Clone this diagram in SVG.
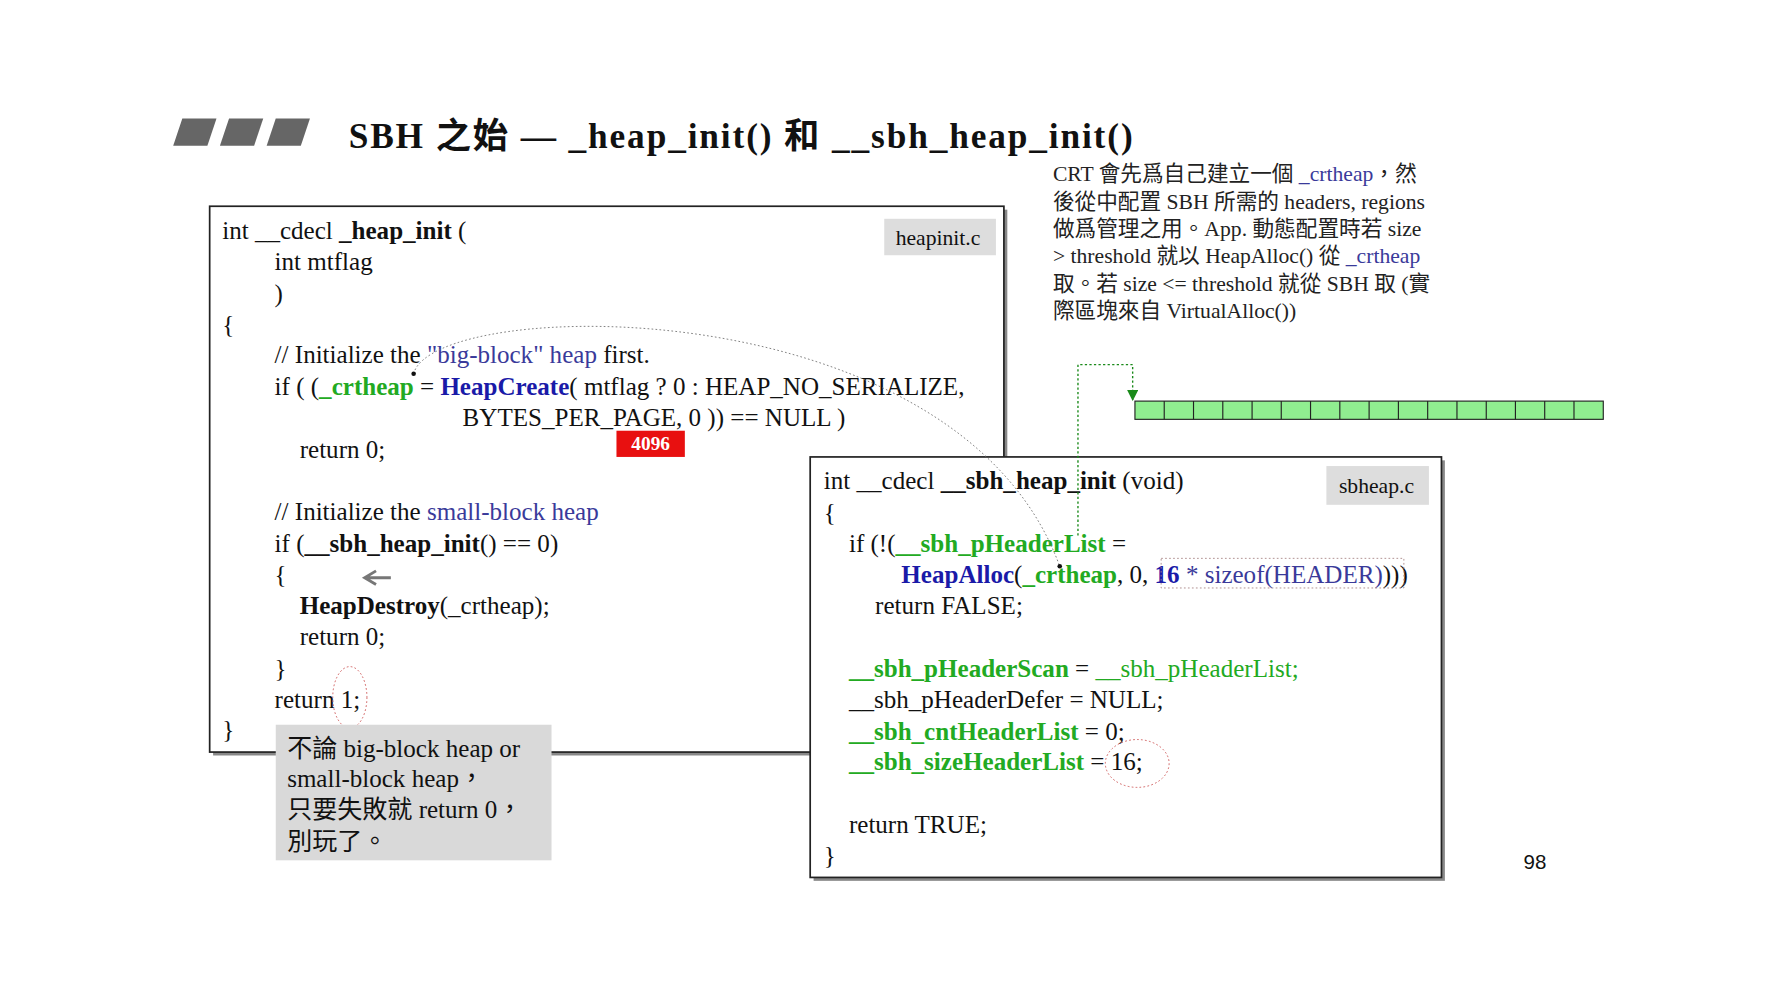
<svg xmlns="http://www.w3.org/2000/svg" width="1778" height="1000" viewBox="0 0 1778 1000">
<style>
.c{font-family:"Liberation Serif","Noto Sans CJK TC",serif;font-size:22px;fill:#111}
.n{font-family:"Liberation Serif","Noto Sans CJK TC",serif;font-size:19px;fill:#222}
.g{fill:#22aa22;font-weight:bold}
.gn{fill:#22aa22}
.b{fill:#1a1aa8;font-weight:bold}
.bl{fill:#3a3a9a}
.k{font-weight:bold}
.box{fill:#fff;stroke:#222;stroke-width:1.5}
.tag{fill:#ddd}
</style>
<defs><marker id="ga" markerWidth="10" markerHeight="10" refX="5" refY="9" orient="0" markerUnits="userSpaceOnUse"><path d="M0,0 L10,0 L5,10 z" fill="#1a8a1a"/></marker></defs>
<rect width="1778" height="1000" fill="#fff"/>
<g transform="scale(1.1395)">
<g id="title">
<polygon points="160,104 190,104 182,128 152,128" fill="#666"/>
<polygon points="201,104 231,104 223,128 193,128" fill="#666"/>
<polygon points="242,104 272,104 264,128 234,128" fill="#666"/>
<text x="306" y="130" class="c" style="font-size:31px;font-weight:bold" textLength="688" lengthAdjust="spacing">SBH 之始 — _heap_init() 和 __sbh_heap_init()</text>
</g>
<g id="heapinit">
<rect x="187" y="184" width="697" height="479" fill="#888"/>
<rect x="184" y="181" width="697" height="479" class="box"/>
<rect x="776" y="192" width="98" height="32" class="tag"/>
<text x="786" y="215" class="c" style="font-size:19px">heapinit.c</text>
<text x="195" y="210" class="c">int __cdecl <tspan class="k">_heap_init</tspan> (</text>
<text x="241" y="237" class="c">int mtflag</text>
<text x="241" y="265" class="c">)</text>
<text x="195" y="292" class="c">{</text>
<text x="241" y="319" class="c">//  Initialize the <tspan class="bl">"big-block" heap</tspan> first.</text>
<text x="241" y="347" class="c">if ( (<tspan class="g">_crtheap</tspan> = <tspan class="b">HeapCreate</tspan>( mtflag ? 0 : HEAP_NO_SERIALIZE,</text>
<text x="406" y="374" class="c">BYTES_PER_PAGE, 0 )) == NULL )</text>
<text x="263" y="402" class="c">return 0;</text>
<text x="241" y="456" class="c">//  Initialize the <tspan class="bl">small-block heap</tspan></text>
<text x="241" y="484" class="c">if (<tspan class="k">__sbh_heap_init</tspan>() == 0)</text>
<text x="241" y="512" class="c">{</text>
<path d="M343,507 H322 M330,501 L320,507 L330,513" stroke="#777" stroke-width="2.5" fill="none"/>
<text x="263" y="539" class="c"><tspan class="k">HeapDestroy</tspan>(_crtheap);</text>
<text x="263" y="566" class="c">return 0;</text>
<text x="241" y="594" class="c">}</text>
<text x="241" y="621" class="c">return 1;</text>
<text x="195" y="648" class="c">}</text>
<ellipse cx="307" cy="612" rx="15" ry="27" fill="none" stroke="#c55" stroke-width="0.8" stroke-dasharray="1.5 2"/>
</g>
<g id="n4096">
<rect x="541" y="378" width="60" height="23" fill="#e81010"/>
<text x="571" y="395" class="c" style="font-size:17px;font-weight:bold;fill:#fff" text-anchor="middle">4096</text>
</g>
<g id="note">
<rect x="242" y="636" width="242" height="119" fill="#d9d9d9"/>
<text x="252" y="664" class="c">不論 big-block heap or</text>
<text x="252" y="691" class="c">small-block heap，</text>
<text x="252" y="718" class="c">只要失敗就 return 0，</text>
<text x="252" y="746" class="c">別玩了。</text>
</g>
<g id="sbheap">
<rect x="714" y="404" width="554" height="369" fill="#888"/>
<rect x="711" y="401" width="554" height="369" class="box"/>
<rect x="1164" y="409" width="90" height="34" class="tag"/>
<text x="1175" y="433" class="c" style="font-size:19px">sbheap.c</text>
<text x="723" y="429" class="c">int __cdecl <tspan class="k">__sbh_heap_init</tspan> (void)</text>
<text x="723" y="457" class="c">{</text>
<text x="745" y="484" class="c">if (!(<tspan class="g">__sbh_pHeaderList</tspan> =</text>
<text x="791" y="512" class="c"><tspan class="b">HeapAlloc</tspan>(<tspan class="g">_crtheap</tspan>, 0, <tspan class="b">16</tspan><tspan class="bl"> * sizeof(HEADER)</tspan>)))</text>
<text x="768" y="539" class="c">return FALSE;</text>
<text x="745" y="594" class="c"><tspan class="g">__sbh_pHeaderScan</tspan> = <tspan class="gn">__sbh_pHeaderList;</tspan></text>
<text x="745" y="621" class="c">__sbh_pHeaderDefer = NULL;</text>
<text x="745" y="649" class="c"><tspan class="g">__sbh_cntHeaderList</tspan> = 0;</text>
<text x="745" y="676" class="c"><tspan class="g">__sbh_sizeHeaderList</tspan> = 16;</text>
<text x="745" y="731" class="c">return TRUE;</text>
<text x="723" y="758" class="c">}</text>
<rect x="1019" y="490" width="213" height="26" fill="none" stroke="#a88" stroke-width="0.8" stroke-dasharray="1.5 2"/>
<ellipse cx="998" cy="670" rx="28" ry="21" fill="none" stroke="#c55" stroke-width="0.8" stroke-dasharray="1.5 2"/>
</g>
<g id="desc">
<text x="924" y="159" class="n">CRT 會先爲自己建立一個 <tspan class="bl">_crtheap</tspan>，然</text>
<text x="924" y="183" class="n">後從中配置 SBH 所需的 headers, regions</text>
<text x="924" y="207" class="n">做爲管理之用。App. 動態配置時若 size</text>
<text x="924" y="231" class="n">&gt; threshold 就以 HeapAlloc() 從 <tspan class="bl">_crtheap</tspan></text>
<text x="924" y="255" class="n">取。若 size &lt;= threshold 就從 SBH 取 (實</text>
<text x="924" y="279" class="n">際區塊來自 VirtualAlloc())</text>
</g>
<g id="bar">
<rect x="996" y="352" width="411" height="16" fill="#90ee90" stroke="#222" stroke-width="1"/>
<path d="M1021.7,352v16M1047.4,352v16M1073.1,352v16M1098.8,352v16M1124.4,352v16M1150.1,352v16M1175.8,352v16M1201.5,352v16M1227.2,352v16M1252.9,352v16M1278.6,352v16M1304.3,352v16M1329.9,352v16M1355.6,352v16M1381.3,352v16" stroke="#222" stroke-width="1"/>
</g>
<g id="connectors">
<path d="M946,470 V320 H994 V351" fill="none" stroke="#1a8a1a" stroke-width="1.2" stroke-dasharray="2 2" marker-end="url(#ga)"/>
<path d="M363,328 C380,260 840,250 930,497" fill="none" stroke="#777" stroke-width="0.8" stroke-dasharray="1.5 2"/>
<circle cx="363" cy="328" r="2" fill="#111"/>
<circle cx="930" cy="497" r="2" fill="#111"/>
</g>
<text x="1337" y="763" style="font-family:'Liberation Sans',sans-serif;font-size:18px" fill="#111">98</text>
</g>
</svg>
